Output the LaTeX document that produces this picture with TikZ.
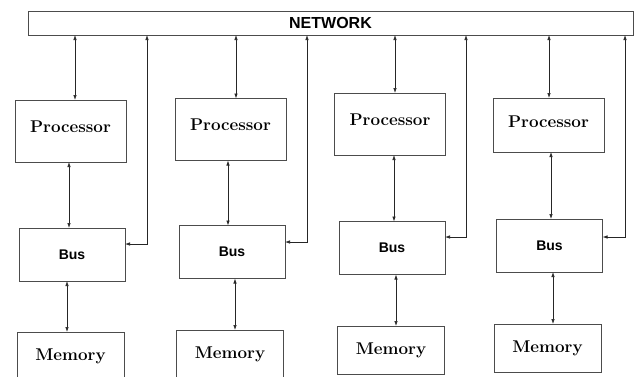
\documentclass[tikz,border=0pt]{standalone}
\usepackage{fontspec}
\newfontfamily\busfont{Liberation Sans}
\usetikzlibrary{arrows.meta}

\begin{document}
\begin{tikzpicture}[x=1pt,y=-1pt,
	box/.style={draw=black!70,line width=0.8pt,inner sep=0,outer sep=0},
	proc/.style={box,minimum width=111pt,minimum height=62pt,text depth=9pt,font=\fontsize{17}{19}\selectfont\bfseries},
	bus/.style={box,minimum width=106pt,minimum height=53pt,font=\busfont\fontsize{14}{16}\selectfont\bfseries},
	mem/.style={box,minimum width=107pt,minimum height=48pt,font=\fontsize{17}{19}\selectfont\bfseries},
	arr/.style={black!85,line width=0.7pt,{Latex[length=5pt,width=3.5pt]}-{Latex[length=5pt,width=3.5pt]}}]
	\clip (0,0) rectangle (634,376);
	\node[box,minimum width=605pt,minimum height=24pt,font=\busfont\fontsize{16}{18}\selectfont\bfseries] (net) at (330.5,23) {NETWORK};
	\node[proc] (p1) at (70.5,131) {Processor};
	\node[proc] (p2) at (230.5,129.5) {Processor};
	\node[proc] (p3) at (390,124) {Processor};
	\node[proc,minimum height=54pt,text depth=6pt] (p4) at (548.5,125) {Processor};
	\node[bus] (b1) at (72,254.5) {Bus};
	\node[bus] (b2) at (232,252) {Bus};
	\node[bus] (b3) at (392,248) {Bus};
	\node[bus] (b4) at (549.5,245.5) {Bus};
	\node[mem] (m1) at (70.5,356) {Memory};
	\node[mem] (m2) at (230,354) {Memory};
	\node[mem] (m3) at (391,350) {Memory};
	\node[mem] (m4) at (547.5,348) {Memory};
	\draw[arr] (p1.north -| 75,0) -- (net.south -| 75,0);
	\draw[arr] (p2.north -| 236,0) -- (net.south -| 236,0);
	\draw[arr] (p3.north -| 395,0) -- (net.south -| 395,0);
	\draw[arr] (p4.north -| 549,0) -- (net.south -| 549,0);
	\draw[arr] (p1.south -| 69,0) -- (b1.north -| 69,0);
	\draw[arr] (p2.south -| 228,0) -- (b2.north -| 228,0);
	\draw[arr] (p3.south -| 394,0) -- (b3.north -| 394,0);
	\draw[arr] (p4.south -| 551,0) -- (b4.north -| 551,0);
	\draw[arr] (b1.south -| 67,0) -- (m1.north -| 67,0);
	\draw[arr] (b2.south -| 235,0) -- (m2.north -| 235,0);
	\draw[arr] (b3.south -| 396,0) -- (m3.north -| 396,0);
	\draw[arr] (b4.south -| 553,0) -- (m4.north -| 553,0);
	\draw[arr] ([yshift=10.5pt]b1.east) -| (net.south -| 147,0);
	\draw[arr] ([yshift=10pt]b2.east) -| (net.south -| 307,0);
	\draw[arr] ([yshift=11pt]b3.east) -| (net.south -| 466,0);
	\draw[arr] ([yshift=8.5pt]b4.east) -| (net.south -| 625,0);
\end{tikzpicture}
\end{document}
